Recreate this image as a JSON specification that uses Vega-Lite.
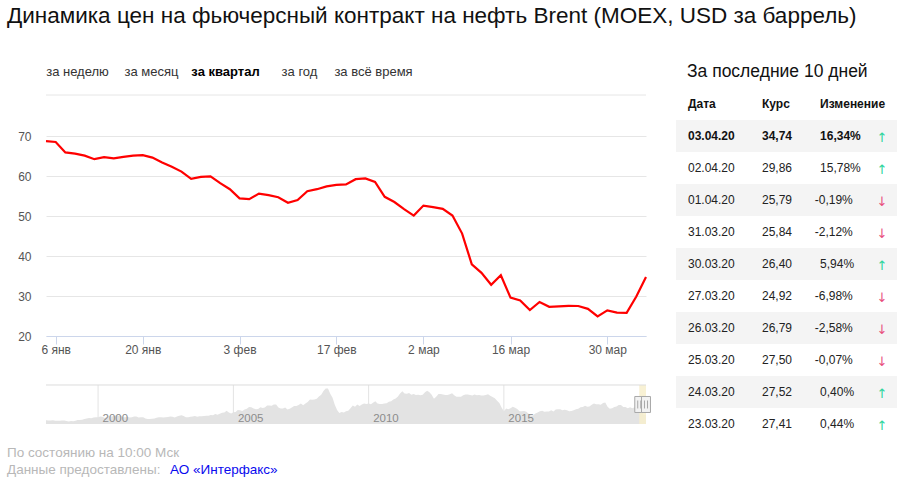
{
  "$schema": "https://vega.github.io/schema/vega-lite/v6.json",
  "background": "white",
  "padding": {"left": 7, "top": 4, "right": 10, "bottom": 5},
  "config": {
    "font": "Liberation Sans",
    "view": {"stroke": null},
    "locale": {"number": {"decimal": ",", "thousands": " ", "grouping": [3], "currency": ["", ""], "minus": "-", "percent": "%"}}
  },
  "title": {
    "text": "Динамика цен на фьючерсный контракт на нефть Brent (MOEX, USD за баррель)",
    "anchor": "start", "frame": "group", "dx": -39, "offset": 4, "baseline": "alphabetic",
    "fontSize": 22.5, "fontWeight": "normal", "font": "Liberation Sans", "color": "#111111"
  },
  "datasets": {
    "prices": [
      {"date": "2020-01-03", "price": 68.7}, {"date": "2020-01-06", "price": 68.5}, {"date": "2020-01-08", "price": 65.9},
      {"date": "2020-01-09", "price": 65.6}, {"date": "2020-01-10", "price": 65.1}, {"date": "2020-01-13", "price": 64.2},
      {"date": "2020-01-14", "price": 64.7}, {"date": "2020-01-15", "price": 64.4}, {"date": "2020-01-16", "price": 64.8},
      {"date": "2020-01-17", "price": 65.1}, {"date": "2020-01-20", "price": 65.2}, {"date": "2020-01-21", "price": 64.6},
      {"date": "2020-01-22", "price": 63.4}, {"date": "2020-01-23", "price": 62.3}, {"date": "2020-01-24", "price": 61.1},
      {"date": "2020-01-27", "price": 59.3}, {"date": "2020-01-28", "price": 59.8}, {"date": "2020-01-29", "price": 59.9},
      {"date": "2020-01-30", "price": 58.2}, {"date": "2020-01-31", "price": 56.7}, {"date": "2020-02-03", "price": 54.4},
      {"date": "2020-02-04", "price": 54.2}, {"date": "2020-02-05", "price": 55.6}, {"date": "2020-02-06", "price": 55.2},
      {"date": "2020-02-07", "price": 54.7}, {"date": "2020-02-10", "price": 53.3}, {"date": "2020-02-11", "price": 54.0},
      {"date": "2020-02-12", "price": 56.2}, {"date": "2020-02-13", "price": 56.7}, {"date": "2020-02-14", "price": 57.4},
      {"date": "2020-02-17", "price": 57.8}, {"date": "2020-02-18", "price": 57.9}, {"date": "2020-02-19", "price": 59.2},
      {"date": "2020-02-20", "price": 59.4}, {"date": "2020-02-21", "price": 58.5}, {"date": "2020-02-25", "price": 54.8},
      {"date": "2020-02-26", "price": 53.5}, {"date": "2020-02-27", "price": 51.7}, {"date": "2020-02-28", "price": 50.1},
      {"date": "2020-03-02", "price": 52.6}, {"date": "2020-03-03", "price": 52.2}, {"date": "2020-03-04", "price": 51.8},
      {"date": "2020-03-05", "price": 50.1}, {"date": "2020-03-06", "price": 45.6}, {"date": "2020-03-10", "price": 37.9},
      {"date": "2020-03-11", "price": 35.8}, {"date": "2020-03-12", "price": 32.8}, {"date": "2020-03-13", "price": 35.2},
      {"date": "2020-03-16", "price": 29.6}, {"date": "2020-03-17", "price": 28.9}, {"date": "2020-03-18", "price": 26.5},
      {"date": "2020-03-19", "price": 28.5}, {"date": "2020-03-20", "price": 27.29}, {"date": "2020-03-23", "price": 27.41},
      {"date": "2020-03-24", "price": 27.52}, {"date": "2020-03-25", "price": 27.5}, {"date": "2020-03-26", "price": 26.79},
      {"date": "2020-03-27", "price": 24.92}, {"date": "2020-03-30", "price": 26.4}, {"date": "2020-03-31", "price": 25.84},
      {"date": "2020-04-01", "price": 25.79}, {"date": "2020-04-02", "price": 29.86}, {"date": "2020-04-03", "price": 34.74}
    ],
    "table": [
      {"date": "2020-04-03", "rate": 34.74, "change": 0.1634},
      {"date": "2020-04-02", "rate": 29.86, "change": 0.1578},
      {"date": "2020-04-01", "rate": 25.79, "change": -0.0019},
      {"date": "2020-03-31", "rate": 25.84, "change": -0.0212},
      {"date": "2020-03-30", "rate": 26.40, "change": 0.0594},
      {"date": "2020-03-27", "rate": 24.92, "change": -0.0698},
      {"date": "2020-03-26", "rate": 26.79, "change": -0.0258},
      {"date": "2020-03-25", "rate": 27.50, "change": -0.0007},
      {"date": "2020-03-24", "rate": 27.52, "change": 0.0040},
      {"date": "2020-03-23", "rate": 27.41, "change": 0.0044}
    ],
    "tabs": [
      {"tab": "за неделю", "on": false},
      {"tab": "за месяц", "on": false},
      {"tab": "за квартал", "on": true},
      {"tab": "за год", "on": false},
      {"tab": "за всё время", "on": false}
    ],
    "footer": [
      {"line": 1, "part": "note", "text": "По состоянию на 10:00 Мск"},
      {"line": 2, "part": "note", "text": "Данные предоставлены:"},
      {"line": 2, "part": "link", "text": "АО «Интерфакс»"}
    ],
    "years": [{"y": "2000-01-01"}, {"y": "2005-01-01"}, {"y": "2010-01-01"}, {"y": "2015-01-01"}],
    "history": [
      {"m": "1998-01", "p": 15.1}, {"m": "1998-02", "p": 14.1}, {"m": "1998-03", "p": 13.2}, {"m": "1998-04", "p": 13.4}, {"m": "1998-05", "p": 14.1}, {"m": "1998-06", "p": 12.1},
      {"m": "1998-07", "p": 12.0}, {"m": "1998-08", "p": 11.9}, {"m": "1998-09", "p": 13.4}, {"m": "1998-10", "p": 12.8}, {"m": "1998-11", "p": 11.0}, {"m": "1998-12", "p": 9.8},
      {"m": "1999-01", "p": 11.1}, {"m": "1999-02", "p": 10.3}, {"m": "1999-03", "p": 12.5}, {"m": "1999-04", "p": 15.2}, {"m": "1999-05", "p": 15.3}, {"m": "1999-06", "p": 15.8},
      {"m": "1999-07", "p": 19.1}, {"m": "1999-08", "p": 20.3}, {"m": "1999-09", "p": 22.5}, {"m": "1999-10", "p": 22.0}, {"m": "1999-11", "p": 24.6}, {"m": "1999-12", "p": 25.5},
      {"m": "2000-01", "p": 25.5}, {"m": "2000-02", "p": 27.8}, {"m": "2000-03", "p": 27.5}, {"m": "2000-04", "p": 22.8}, {"m": "2000-05", "p": 27.6}, {"m": "2000-06", "p": 29.8},
      {"m": "2000-07", "p": 28.6}, {"m": "2000-08", "p": 30.6}, {"m": "2000-09", "p": 32.8}, {"m": "2000-10", "p": 31.5}, {"m": "2000-11", "p": 32.6}, {"m": "2000-12", "p": 25.3},
      {"m": "2001-01", "p": 25.7}, {"m": "2001-02", "p": 27.5}, {"m": "2001-03", "p": 24.5}, {"m": "2001-04", "p": 25.6}, {"m": "2001-05", "p": 28.1}, {"m": "2001-06", "p": 27.8},
      {"m": "2001-07", "p": 24.5}, {"m": "2001-08", "p": 25.6}, {"m": "2001-09", "p": 25.6}, {"m": "2001-10", "p": 20.5}, {"m": "2001-11", "p": 18.8}, {"m": "2001-12", "p": 18.7},
      {"m": "2002-01", "p": 19.4}, {"m": "2002-02", "p": 20.3}, {"m": "2002-03", "p": 23.7}, {"m": "2002-04", "p": 25.7}, {"m": "2002-05", "p": 25.4}, {"m": "2002-06", "p": 24.1},
      {"m": "2002-07", "p": 25.7}, {"m": "2002-08", "p": 26.6}, {"m": "2002-09", "p": 28.3}, {"m": "2002-10", "p": 27.5}, {"m": "2002-11", "p": 24.3}, {"m": "2002-12", "p": 28.0},
      {"m": "2003-01", "p": 31.2}, {"m": "2003-02", "p": 32.8}, {"m": "2003-03", "p": 30.3}, {"m": "2003-04", "p": 25.0}, {"m": "2003-05", "p": 25.8}, {"m": "2003-06", "p": 27.6},
      {"m": "2003-07", "p": 28.4}, {"m": "2003-08", "p": 29.8}, {"m": "2003-09", "p": 27.1}, {"m": "2003-10", "p": 29.6}, {"m": "2003-11", "p": 28.8}, {"m": "2003-12", "p": 29.8},
      {"m": "2004-01", "p": 31.2}, {"m": "2004-02", "p": 30.9}, {"m": "2004-03", "p": 33.8}, {"m": "2004-04", "p": 33.4}, {"m": "2004-05", "p": 37.9}, {"m": "2004-06", "p": 35.2},
      {"m": "2004-07", "p": 38.2}, {"m": "2004-08", "p": 42.7}, {"m": "2004-09", "p": 43.2}, {"m": "2004-10", "p": 49.8}, {"m": "2004-11", "p": 43.1}, {"m": "2004-12", "p": 39.7},
      {"m": "2005-01", "p": 44.3}, {"m": "2005-02", "p": 45.5}, {"m": "2005-03", "p": 53.1}, {"m": "2005-04", "p": 51.9}, {"m": "2005-05", "p": 48.7}, {"m": "2005-06", "p": 54.3},
      {"m": "2005-07", "p": 57.5}, {"m": "2005-08", "p": 64.0}, {"m": "2005-09", "p": 62.7}, {"m": "2005-10", "p": 58.5}, {"m": "2005-11", "p": 55.5}, {"m": "2005-12", "p": 56.7},
      {"m": "2006-01", "p": 62.9}, {"m": "2006-02", "p": 60.0}, {"m": "2006-03", "p": 62.0}, {"m": "2006-04", "p": 70.0}, {"m": "2006-05", "p": 69.8}, {"m": "2006-06", "p": 68.7},
      {"m": "2006-07", "p": 73.7}, {"m": "2006-08", "p": 73.2}, {"m": "2006-09", "p": 62.0}, {"m": "2006-10", "p": 58.5}, {"m": "2006-11", "p": 58.8}, {"m": "2006-12", "p": 62.0},
      {"m": "2007-01", "p": 54.5}, {"m": "2007-02", "p": 57.8}, {"m": "2007-03", "p": 62.1}, {"m": "2007-04", "p": 67.5}, {"m": "2007-05", "p": 67.9}, {"m": "2007-06", "p": 71.3},
      {"m": "2007-07", "p": 77.2}, {"m": "2007-08", "p": 70.8}, {"m": "2007-09", "p": 77.0}, {"m": "2007-10", "p": 82.5}, {"m": "2007-11", "p": 92.1}, {"m": "2007-12", "p": 91.5},
      {"m": "2008-01", "p": 92.0}, {"m": "2008-02", "p": 94.8}, {"m": "2008-03", "p": 103.3}, {"m": "2008-04", "p": 110.4}, {"m": "2008-05", "p": 124.6}, {"m": "2008-06", "p": 133.5},
      {"m": "2008-07", "p": 133.9}, {"m": "2008-08", "p": 113.9}, {"m": "2008-09", "p": 99.1}, {"m": "2008-10", "p": 72.8}, {"m": "2008-11", "p": 53.2}, {"m": "2008-12", "p": 41.6},
      {"m": "2009-01", "p": 44.9}, {"m": "2009-02", "p": 43.4}, {"m": "2009-03", "p": 47.7}, {"m": "2009-04", "p": 49.8}, {"m": "2009-05", "p": 59.2}, {"m": "2009-06", "p": 69.7},
      {"m": "2009-07", "p": 65.0}, {"m": "2009-08", "p": 73.1}, {"m": "2009-09", "p": 68.2}, {"m": "2009-10", "p": 73.9}, {"m": "2009-11", "p": 77.5}, {"m": "2009-12", "p": 75.2},
      {"m": "2010-01", "p": 76.9}, {"m": "2010-02", "p": 74.7}, {"m": "2010-03", "p": 79.9}, {"m": "2010-04", "p": 85.7}, {"m": "2010-05", "p": 76.9}, {"m": "2010-06", "p": 75.7},
      {"m": "2010-07", "p": 75.5}, {"m": "2010-08", "p": 77.1}, {"m": "2010-09", "p": 78.2}, {"m": "2010-10", "p": 83.5}, {"m": "2010-11", "p": 86.1}, {"m": "2010-12", "p": 92.0},
      {"m": "2011-01", "p": 96.5}, {"m": "2011-02", "p": 103.7}, {"m": "2011-03", "p": 114.6}, {"m": "2011-04", "p": 123.3}, {"m": "2011-05", "p": 114.5}, {"m": "2011-06", "p": 113.9},
      {"m": "2011-07", "p": 116.7}, {"m": "2011-08", "p": 110.2}, {"m": "2011-09", "p": 112.8}, {"m": "2011-10", "p": 109.6}, {"m": "2011-11", "p": 110.5}, {"m": "2011-12", "p": 107.9},
      {"m": "2012-01", "p": 110.7}, {"m": "2012-02", "p": 119.3}, {"m": "2012-03", "p": 125.5}, {"m": "2012-04", "p": 119.8}, {"m": "2012-05", "p": 110.3}, {"m": "2012-06", "p": 95.2},
      {"m": "2012-07", "p": 102.6}, {"m": "2012-08", "p": 113.4}, {"m": "2012-09", "p": 113.0}, {"m": "2012-10", "p": 111.5}, {"m": "2012-11", "p": 109.5}, {"m": "2012-12", "p": 109.2},
      {"m": "2013-01", "p": 112.3}, {"m": "2013-02", "p": 116.1}, {"m": "2013-03", "p": 108.5}, {"m": "2013-04", "p": 102.3}, {"m": "2013-05", "p": 102.6}, {"m": "2013-06", "p": 102.9},
      {"m": "2013-07", "p": 107.9}, {"m": "2013-08", "p": 111.3}, {"m": "2013-09", "p": 111.6}, {"m": "2013-10", "p": 109.1}, {"m": "2013-11", "p": 107.8}, {"m": "2013-12", "p": 110.8},
      {"m": "2014-01", "p": 108.1}, {"m": "2014-02", "p": 108.9}, {"m": "2014-03", "p": 107.5}, {"m": "2014-04", "p": 107.8}, {"m": "2014-05", "p": 109.5}, {"m": "2014-06", "p": 111.8},
      {"m": "2014-07", "p": 106.8}, {"m": "2014-08", "p": 101.6}, {"m": "2014-09", "p": 97.1}, {"m": "2014-10", "p": 87.4}, {"m": "2014-11", "p": 79.4}, {"m": "2014-12", "p": 62.3},
      {"m": "2015-01", "p": 47.8}, {"m": "2015-02", "p": 58.1}, {"m": "2015-03", "p": 55.9}, {"m": "2015-04", "p": 59.5}, {"m": "2015-05", "p": 64.6}, {"m": "2015-06", "p": 61.7},
      {"m": "2015-07", "p": 56.8}, {"m": "2015-08", "p": 48.2}, {"m": "2015-09", "p": 48.5}, {"m": "2015-10", "p": 49.3}, {"m": "2015-11", "p": 45.9}, {"m": "2015-12", "p": 38.9},
      {"m": "2016-01", "p": 31.9}, {"m": "2016-02", "p": 33.4}, {"m": "2016-03", "p": 39.8}, {"m": "2016-04", "p": 43.3}, {"m": "2016-05", "p": 47.7}, {"m": "2016-06", "p": 49.9},
      {"m": "2016-07", "p": 46.6}, {"m": "2016-08", "p": 47.2}, {"m": "2016-09", "p": 47.2}, {"m": "2016-10", "p": 51.4}, {"m": "2016-11", "p": 47.1}, {"m": "2016-12", "p": 54.9},
      {"m": "2017-01", "p": 55.5}, {"m": "2017-02", "p": 55.9}, {"m": "2017-03", "p": 52.2}, {"m": "2017-04", "p": 53.8}, {"m": "2017-05", "p": 51.4}, {"m": "2017-06", "p": 47.6},
      {"m": "2017-07", "p": 49.2}, {"m": "2017-08", "p": 51.9}, {"m": "2017-09", "p": 55.5}, {"m": "2017-10", "p": 57.6}, {"m": "2017-11", "p": 62.9}, {"m": "2017-12", "p": 64.4},
      {"m": "2018-01", "p": 69.1}, {"m": "2018-02", "p": 65.3}, {"m": "2018-03", "p": 66.0}, {"m": "2018-04", "p": 72.1}, {"m": "2018-05", "p": 76.9}, {"m": "2018-06", "p": 74.4},
      {"m": "2018-07", "p": 74.3}, {"m": "2018-08", "p": 72.5}, {"m": "2018-09", "p": 78.9}, {"m": "2018-10", "p": 81.0}, {"m": "2018-11", "p": 64.8}, {"m": "2018-12", "p": 57.4},
      {"m": "2019-01", "p": 59.4}, {"m": "2019-02", "p": 64.0}, {"m": "2019-03", "p": 66.1}, {"m": "2019-04", "p": 71.2}, {"m": "2019-05", "p": 71.3}, {"m": "2019-06", "p": 64.2},
      {"m": "2019-07", "p": 63.9}, {"m": "2019-08", "p": 59.0}, {"m": "2019-09", "p": 62.8}, {"m": "2019-10", "p": 59.7}, {"m": "2019-11", "p": 63.2}, {"m": "2019-12", "p": 67.3},
      {"m": "2020-01", "p": 63.6}, {"m": "2020-02", "p": 55.5}, {"m": "2020-03", "p": 33.7}, {"m": "2020-04-03", "p": 34.7}
    ]
  },
  "bounds": "flush",
  "spacing": 630,
  "hconcat": [
    {
      "bounds": "flush",
      "spacing": 20,
      "vconcat": [
        {
          "width": 600, "height": 67,
          "layer": [
            {
              "data": {"values": [{"edge": "bottom"}]},
              "mark": {"type": "rule", "color": "#e6e6e6"},
              "encoding": {"y": {"datum": 21, "type": "quantitative", "scale": {"domain": [0, 67], "nice": false, "zero": false}, "axis": null}}
            },
            {
              "data": {"name": "tabs"},
              "transform": [{"filter": "!datum.on"}],
              "mark": {"type": "text", "align": "center", "fontSize": 13, "color": "#333333"},
              "encoding": {
                "x": {"field": "tab", "type": "nominal",
                      "scale": {"type": "point", "padding": 0, "domain": ["за неделю", "за месяц", "за квартал", "за год", "за всё время"], "range": [31.5, 327.5]},
                      "axis": null},
                "y": {"datum": 44, "type": "quantitative"},
                "text": {"field": "tab"}
              }
            },
            {
              "data": {"name": "tabs"},
              "transform": [{"filter": "datum.on"}],
              "mark": {"type": "text", "align": "center", "fontSize": 13, "fontWeight": "bold", "color": "#000000"},
              "encoding": {
                "x": {"field": "tab", "type": "nominal"},
                "y": {"datum": 44, "type": "quantitative"},
                "text": {"field": "tab"}
              }
            }
          ]
        },
        {
          "width": 600, "height": 200,
          "data": {"name": "prices"},
          "mark": {"type": "line", "color": "#ff0000", "strokeWidth": 2.2},
          "encoding": {
            "x": {"field": "date", "type": "ordinal",
                  "scale": {"type": "point", "padding": 0},
                  "axis": {"title": null, "labelAngle": 0, "grid": false,
                           "values": ["2020-01-06", "2020-01-20", "2020-02-03", "2020-02-17", "2020-03-02", "2020-03-16", "2020-03-30"],
                           "labelExpr": "{'2020-01-06':'6 янв','2020-01-20':'20 янв','2020-02-03':'3 фев','2020-02-17':'17 фев','2020-03-02':'2 мар','2020-03-16':'16 мар','2020-03-30':'30 мар'}[datum.value]",
                           "domainColor": "#ccd6eb", "tickColor": "#ccd6eb", "tickSize": 8, "labelPadding": 0,
                           "labelColor": "#555555", "labelFontSize": 12}},
            "y": {"field": "price", "type": "quantitative",
                  "scale": {"domain": [20, 70], "nice": false, "zero": false},
                  "axis": {"title": null, "values": [20, 30, 40, 50, 60, 70], "domain": false, "ticks": false,
                           "labelPadding": 15, "gridColor": "#e6e6e6", "labelColor": "#555555", "labelFontSize": 12}}
          }
        },
        {
          "width": 600, "height": 68,
          "layer": [
            {
              "data": {"name": "years"},
              "mark": {"type": "rule", "color": "#e3e3e3"},
              "encoding": {
                "x": {"field": "y", "type": "temporal",
                      "scale": {"type": "utc", "domain": [{"year": 1998, "month": 1, "date": 28, "utc": true}, {"year": 2020, "month": 4, "date": 3, "utc": true}]},
                      "axis": {"title": null, "orient": "bottom", "domain": false, "ticks": false, "tickSize": 0, "grid": false, "zindex": 2,
                               "values": [{"year": 2000, "utc": true}, {"year": 2005, "utc": true}, {"year": 2010, "utc": true}, {"year": 2015, "utc": true}],
                               "format": "%Y", "labelAlign": "left", "labelBaseline": "alphabetic", "labelPadding": -3, "labelOffset": 4,
                               "labelColor": "#8c8c8c", "labelFontSize": 11.5}},
                "y": {"datum": 0, "type": "quantitative", "scale": {"domain": [0, 256.3], "nice": false}, "axis": null},
                "y2": {"datum": 147}
              }
            },
            {
              "data": {"name": "history"},
              "mark": {"type": "area", "color": "#e3e3e3", "clip": true},
              "encoding": {
                "x": {"field": "m", "type": "temporal"},
                "y": {"field": "p", "type": "quantitative"}
              }
            },
            {
              "data": {"values": [{"start": "2020-01-03", "end": "2020-04-03"}]},
              "mark": {"type": "rect", "color": "#f7efcc", "opacity": 0.85},
              "encoding": {
                "x": {"field": "start", "type": "temporal"},
                "x2": {"field": "end"},
                "y": {"datum": 0, "type": "quantitative"},
                "y2": {"datum": 147}
              }
            },
            {
              "data": {"values": [{"edge": "top"}]},
              "mark": {"type": "rule", "color": "#dddddd"},
              "encoding": {"y": {"datum": 147, "type": "quantitative"}}
            },
            {
              "data": {"values": [{"d": "2020-01-03"}, {"d": "2020-04-03"}]},
              "mark": {"type": "point", "shape": "M-0.56,-1H0.56V1H-0.56Z M-0.19,-0.5V0.5 M0.19,-0.5V0.5", "size": 256, "filled": false, "fill": "#f2f2f2", "stroke": "#a8a8a8", "strokeWidth": 1, "opacity": 1},
              "encoding": {"x": {"field": "d", "type": "temporal"}, "y": {"datum": 73.5, "type": "quantitative"}}
            }
          ]
        },
        {
          "width": 600, "height": 34,
          "data": {"name": "footer"},
          "mark": {"type": "text", "align": "left", "fontSize": 13.5},
          "encoding": {
            "x": {"field": "part", "type": "nominal", "scale": {"type": "point", "padding": 0, "domain": ["note", "link"], "range": [-39, 124]}, "axis": null},
            "y": {"field": "line", "type": "ordinal", "scale": {"type": "point", "padding": 0.5}, "axis": null},
            "color": {"field": "part", "type": "nominal", "scale": {"domain": ["note", "link"], "range": ["#b8b8b8", "#0a0aee"]}, "legend": null},
            "text": {"field": "text"}
          }
        }
      ]
    },
    {
      "width": 221, "height": 391,
      "layer": [
        {
          "data": {"name": "table"},
          "transform": [
            {"window": [{"op": "row_number", "as": "rn"}], "sort": [{"field": "date", "order": "descending"}]},
            {"filter": "datum.rn % 2 == 1"}
          ],
          "mark": {"type": "rect", "color": "#f4f4f4"},
          "encoding": {
            "y": {"field": "rn", "type": "ordinal",
                  "scale": {"type": "band", "domain": [-1, 0, 1, 2, 3, 4, 5, 6, 7, 8, 9, 10], "range": [7, 391], "paddingInner": 0, "paddingOuter": 0},
                  "axis": null}
          }
        },
        {
          "data": {"values": [{"t": "За последние 10 дней"}]},
          "mark": {"type": "text", "align": "left", "fontSize": 17.5, "color": "#111111", "dx": -1},
          "encoding": {
            "x": {"datum": "date", "scale": {"type": "point", "padding": 0, "domain": ["date", "rate", "change", "arrow"], "range": [12, 206]}, "axis": null},
            "y": {"datum": -1, "type": "ordinal"},
            "text": {"field": "t"}
          }
        },
        {
          "data": {"values": [{"t": "Дата"}]},
          "mark": {"type": "text", "align": "left", "fontSize": 12, "fontWeight": "bold", "color": "#111111"},
          "encoding": {"x": {"datum": "date"}, "y": {"datum": 0, "type": "ordinal"}, "text": {"field": "t"}}
        },
        {
          "data": {"values": [{"t": "Курс"}]},
          "mark": {"type": "text", "align": "left", "fontSize": 12, "fontWeight": "bold", "color": "#111111", "dx": 9.3},
          "encoding": {"x": {"datum": "rate"}, "y": {"datum": 0, "type": "ordinal"}, "text": {"field": "t"}}
        },
        {
          "data": {"values": [{"t": "Изменение"}]},
          "mark": {"type": "text", "align": "left", "fontSize": 12, "fontWeight": "bold", "color": "#111111", "dx": 2.7},
          "encoding": {"x": {"datum": "change"}, "y": {"datum": 0, "type": "ordinal"}, "text": {"field": "t"}}
        },
        {
          "data": {"name": "table"},
          "transform": [
            {"window": [{"op": "row_number", "as": "rn"}], "sort": [{"field": "date", "order": "descending"}]},
            {"calculate": "utcFormat(toDate(datum.date), '%d.%m.%y')", "as": "ds"},
            {"filter": "datum.rn == 1"}
          ],
          "mark": {"type": "text", "align": "left", "fontSize": 12, "fontWeight": "bold", "color": "#111111"},
          "encoding": {"x": {"datum": "date"}, "y": {"field": "rn", "type": "ordinal"}, "text": {"field": "ds"}}
        },
        {
          "data": {"name": "table"},
          "transform": [
            {"window": [{"op": "row_number", "as": "rn"}], "sort": [{"field": "date", "order": "descending"}]},
            {"calculate": "utcFormat(toDate(datum.date), '%d.%m.%y')", "as": "ds"},
            {"filter": "datum.rn > 1"}
          ],
          "mark": {"type": "text", "align": "left", "fontSize": 12, "color": "#222222"},
          "encoding": {"x": {"datum": "date"}, "y": {"field": "rn", "type": "ordinal"}, "text": {"field": "ds"}}
        },
        {
          "data": {"name": "table"},
          "transform": [
            {"window": [{"op": "row_number", "as": "rn"}], "sort": [{"field": "date", "order": "descending"}]},
            {"filter": "datum.rn == 1"}
          ],
          "mark": {"type": "text", "align": "left", "fontSize": 12, "fontWeight": "bold", "color": "#111111", "dx": 9.3},
          "encoding": {"x": {"datum": "rate"}, "y": {"field": "rn", "type": "ordinal"}, "text": {"field": "rate", "type": "quantitative", "format": ".2f"}}
        },
        {
          "data": {"name": "table"},
          "transform": [
            {"window": [{"op": "row_number", "as": "rn"}], "sort": [{"field": "date", "order": "descending"}]},
            {"filter": "datum.rn > 1"}
          ],
          "mark": {"type": "text", "align": "left", "fontSize": 12, "color": "#222222", "dx": 9.3},
          "encoding": {"x": {"datum": "rate"}, "y": {"field": "rn", "type": "ordinal"}, "text": {"field": "rate", "type": "quantitative", "format": ".2f"}}
        },
        {
          "data": {"name": "table"},
          "transform": [
            {"window": [{"op": "row_number", "as": "rn"}], "sort": [{"field": "date", "order": "descending"}]},
            {"filter": "datum.rn == 1"}
          ],
          "mark": {"type": "text", "align": "left", "fontSize": 12, "fontWeight": "bold", "color": "#111111", "dx": 2.7},
          "encoding": {"x": {"datum": "change"}, "y": {"field": "rn", "type": "ordinal"}, "text": {"field": "change", "type": "quantitative", "format": ".2%"}}
        },
        {
          "data": {"name": "table"},
          "transform": [
            {"window": [{"op": "row_number", "as": "rn"}], "sort": [{"field": "date", "order": "descending"}]},
            {"filter": "datum.rn > 1 && datum.change >= 0"}
          ],
          "mark": {"type": "text", "align": "left", "fontSize": 12, "color": "#222222", "dx": 2.7},
          "encoding": {"x": {"datum": "change"}, "y": {"field": "rn", "type": "ordinal"}, "text": {"field": "change", "type": "quantitative", "format": ".2%"}}
        },
        {
          "data": {"name": "table"},
          "transform": [
            {"window": [{"op": "row_number", "as": "rn"}], "sort": [{"field": "date", "order": "descending"}]},
            {"filter": "datum.change < 0"}
          ],
          "mark": {"type": "text", "align": "left", "fontSize": 12, "color": "#222222", "dx": -2.6},
          "encoding": {"x": {"datum": "change"}, "y": {"field": "rn", "type": "ordinal"}, "text": {"field": "change", "type": "quantitative", "format": ".2%"}}
        },
        {
          "data": {"name": "table"},
          "transform": [
            {"window": [{"op": "row_number", "as": "rn"}], "sort": [{"field": "date", "order": "descending"}]}
          ],
          "mark": {"type": "text", "align": "center", "fontSize": 13, "font": "DejaVu Sans", "dy": 2},
          "encoding": {
            "x": {"datum": "arrow"},
            "y": {"field": "rn", "type": "ordinal"},
            "text": {"condition": {"test": "datum.change >= 0", "value": "↑"}, "value": "↓"},
            "color": {"condition": {"test": "datum.change >= 0", "value": "#2fd59c"}, "value": "#e8507e"}
          }
        }
      ]
    }
  ]
}
